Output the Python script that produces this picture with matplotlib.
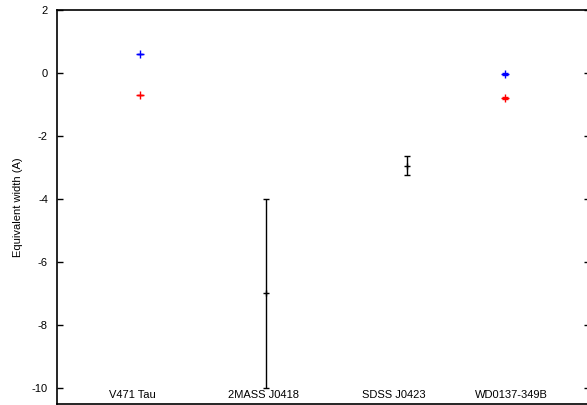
import numpy as np
import matplotlib
matplotlib.use("Agg")
import matplotlib.pyplot as plt

plt.rcParams['font.family'] = ['Liberation Sans', 'DejaVu Sans']
plt.rcParams['axes.unicode_minus'] = False

# objects on the x axis
names = ['V471 Tau', '2MASS J0418', 'SDSS J0423', 'WD0137-349B']
name_x = [0.563, 1.553, 2.529, 3.407]

# blue points (V471 Tau, WD0137-349B)
blue_x = [0.623, 3.362]
blue_y = [0.60, -0.03]
blue_err = [0.0, 0.03]

# red points
red_x = [0.623, 3.362]
red_y = [-0.70, -0.80]
red_err = [0.0, 0.03]

# black points with error bars (2MASS J0418, SDSS J0423)
blk_x = [1.568, 2.627]
blk_y = [-7.0, -2.95]
blk_err = [3.0, 0.30]

fig = plt.figure(figsize=(5.87, 4.05), dpi=100)
ax = fig.add_axes([57 / 587, 1.5 / 405, 533 / 587, 393.5 / 405])

ax.errorbar(blue_x, blue_y, yerr=blue_err, fmt='+', color='#0000ff', ms=6, mew=1.0,
            elinewidth=1.0, capsize=2, capthick=1.0)
ax.errorbar(red_x, red_y, yerr=red_err, fmt='+', color='#ff0000', ms=6, mew=1.0,
            elinewidth=1.0, capsize=2, capthick=1.0)
ax.errorbar(blk_x, blk_y, yerr=blk_err, fmt='+', color='black', ms=5, mew=1.0,
            elinewidth=1.0, capsize=2, capthick=1.0)

ax.set_xlim(0, 4)
ax.set_ylim(-10.5, 2)
ax.set_yticks(np.arange(-10, 3, 2))
ax.set_xticks(name_x)
ax.set_xticklabels(names)
ax.tick_params(axis='x', length=0, pad=-9.5, labelsize=8)
ax.tick_params(axis='y', direction='in', length=4.5, width=1.0, left=True, right=True,
               pad=6.5, labelsize=8)
for s in ax.spines.values():
    s.set_linewidth(1.2)

ax.set_ylabel('Equivalent width (A)', fontsize=8)
ax.yaxis.set_label_coords(-0.064, 0.5)

fig.savefig('out.png', dpi=100)
